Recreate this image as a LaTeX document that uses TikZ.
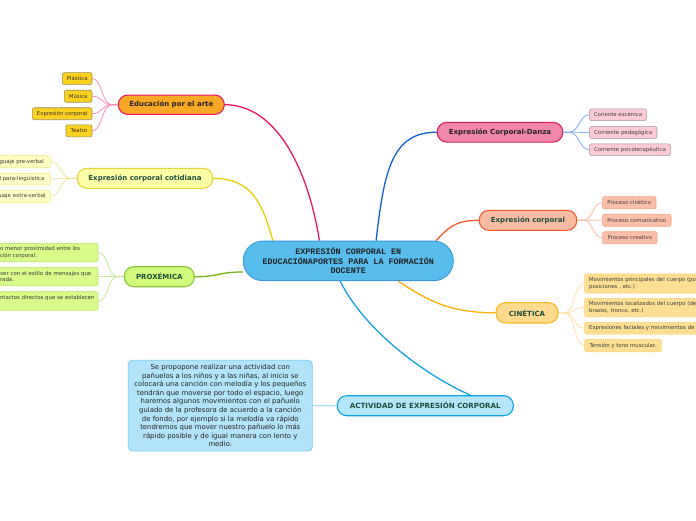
\documentclass[tikz,border=0pt]{standalone}
\usepackage{fontspec}
\setmainfont{DejaVu Sans}
\newfontfamily\monof{Liberation Mono}
\usetikzlibrary{calc}
\pgfdeclarelayer{bg}
\pgfdeclarelayer{edges}
\pgfsetlayers{bg,edges,main}

\definecolor{cfill}{HTML}{57BDEC}
\definecolor{cdraw}{HTML}{3A9AD9}
\definecolor{dkgreen}{HTML}{1F4E3D}
\definecolor{dktext}{HTML}{222222}
\definecolor{leaftext}{HTML}{3A3A3A}
\definecolor{edufill}{HTML}{F9A825}
\definecolor{edudraw}{HTML}{E8176A}
\definecolor{educon}{HTML}{E8176A}
\definecolor{eduleafcon}{HTML}{FF8DC0}
\definecolor{eduleaffill}{HTML}{FFD21F}
\definecolor{eduleafdraw}{HTML}{9B8F5E}
\definecolor{cotifill}{HTML}{FFFFA8}
\definecolor{cotidraw}{HTML}{E6D43A}
\definecolor{coticon}{HTML}{E6D000}
\definecolor{cotileaffill}{HTML}{FFFFC4}
\definecolor{cotileafdraw}{HTML}{F2E88A}
\definecolor{cotileafcon}{HTML}{F2E69A}
\definecolor{proxfill}{HTML}{D2FB7C}
\definecolor{proxdraw}{HTML}{8CC63F}
\definecolor{proxcon}{HTML}{7AB317}
\definecolor{proxleaffill}{HTML}{D9FB8A}
\definecolor{proxleafdraw}{HTML}{B9E46C}
\definecolor{proxleafcon}{HTML}{C8E89A}
\definecolor{danzafill}{HTML}{F287AC}
\definecolor{danzadraw}{HTML}{D61F5E}
\definecolor{danzacon}{HTML}{1160D0}
\definecolor{danzaleaffill}{HTML}{FDCAD6}
\definecolor{danzaleafdraw}{HTML}{9A9A9A}
\definecolor{danzaleafcon}{HTML}{7DB0EE}
\definecolor{expcfill}{HTML}{F9BCA2}
\definecolor{expcdraw}{HTML}{F05A28}
\definecolor{expccon}{HTML}{F05A28}
\definecolor{expcleaffill}{HTML}{FBBEA6}
\definecolor{expcleafdraw}{HTML}{F5A686}
\definecolor{expcleafcon}{HTML}{F9BBA2}
\definecolor{cinfill}{HTML}{FFDA8F}
\definecolor{cindraw}{HTML}{FFB61E}
\definecolor{cincon}{HTML}{FFB000}
\definecolor{cinleaffill}{HTML}{FFDF94}
\definecolor{cinleafdraw}{HTML}{FFD077}
\definecolor{cinleafcon}{HTML}{FFE2A8}
\definecolor{actfill}{HTML}{B5E6FB}
\definecolor{actdraw}{HTML}{0FA3E6}
\definecolor{actcon}{HTML}{0FA3E6}
\definecolor{descfill}{HTML}{B3E3FA}
\definecolor{descdraw}{HTML}{77CCF2}
\definecolor{desccon}{HTML}{A8DDF7}

\tikzset{
  branch/.style={rounded corners=9.5pt, line width=1.1pt, inner sep=0pt,
    font=\fontsize{7}{8.4}\selectfont\bfseries, text=dkgreen},
  leafbox/.style={rounded corners=2pt, line width=0.6pt, inner sep=0pt,
    font=\fontsize{5.4}{6.5}\selectfont, text=leaftext},
  cutleft/.style={leafbox, anchor=east, align=left, inner xsep=2.5pt},
  cutright/.style={leafbox, anchor=west, align=left, inner xsep=4.5pt, text width=140pt},
  mainedge/.style={line width=1.3pt},
  leafedge/.style={line width=0.8pt},
}

\begin{document}
\begin{tikzpicture}[x=1pt,y=-1pt]
\useasboundingbox (0,0) rectangle (696,520);
\begin{pgfonlayer}{bg}
  \fill[white] (0,0) rectangle (696,520);
\end{pgfonlayer}

% central node
\node[branch, fill=cfill, draw=cdraw, rounded corners=19.5pt, line width=0.9pt,
  minimum width=210pt, minimum height=39.5pt, align=center, text=dktext,
  font=\monof\bfseries\fontsize{8.4}{9.6}\selectfont] (c) at (348.3,260.9)
  {EXPRESIÓN CORPORAL EN\\EDUCACIÓNAPORTES PARA LA FORMACIÓN\\DOCENTE};

% branches
\node[branch, fill=edufill, draw=edudraw, minimum width=106pt, minimum height=19.3pt, text=dktext] (edu) at (171.3,104.7) {Educación por el arte};
\node[branch, fill=cotifill, draw=cotidraw, minimum width=135.4pt, minimum height=20pt] (coti) at (145,178.3) {Expresión corporal cotidiana};
\node[branch, fill=proxfill, draw=proxdraw, minimum width=70pt, minimum height=20pt] (prox) at (159.3,276.7) {PROXÉMICA};
\node[branch, fill=danzafill, draw=danzadraw, minimum width=125.4pt, minimum height=19.7pt, text=dktext] (danza) at (500,132.2) {Expresión Corporal-Danza};
\node[branch, fill=expcfill, draw=expcdraw, minimum width=97.4pt, minimum height=20pt] (expc) at (528,220.3) {Expresión corporal};
\node[branch, fill=cinfill, draw=cindraw, minimum width=62pt, minimum height=20.3pt] (cin) at (527,312.8) {CINÉTICA};
\node[branch, fill=actfill, draw=actdraw, minimum width=176pt, minimum height=20pt, font=\fontsize{7.1}{8.4}\selectfont\bfseries] (act) at (425.3,405.7) {ACTIVIDAD DE EXPRESIÓN CORPORAL};

% description
\node[rounded corners=4pt, fill=descfill, draw=descdraw, line width=0.8pt, inner sep=0pt,
  minimum width=184pt, minimum height=90.7pt, align=center, text=dktext,
  font=\fontsize{6.9}{8.55}\selectfont] (desc) at (220.3,405.6)
  {Se propopone realizar una actividad con\\
   pañuelos a los niños y a las niñas, al inicio se\\
   colocará una canción con melodía y los pequeños\\
   tendrán que moverse por todo el espacio, luego\\
   haremos algunos movimientos con el pañuelo\\
   guiado de la profesora de acuerdo a la canción\\
   de fondo, por ejemplo si la melodía va rápido\\
   tendremos que mover nuestro pañuelo lo más\\
   rápido posible y de igual manera con lento y\\
   medio.};

% educacion leaves
\begin{scope}[every node/.style={leafbox, anchor=east, fill=eduleaffill, draw=eduleafdraw, minimum height=12pt, text=black!80}]
  \node[minimum width=29.6pt] (pla) at (92.3,78.6) {Plástica};
  \node[minimum width=27.6pt] (mus) at (92.3,96.2) {Música};
  \node[minimum width=59.6pt] (expl) at (92.3,113.7) {Expresión corporal};
  \node[minimum width=26pt] (tea) at (92.3,130.8) {Teatro};
\end{scope}

% cotidiana leaves
\node[cutleft, fill=cotileaffill, draw=cotileafdraw, text width=48.4pt, minimum height=12pt] (co1) at (50.7,161.7) {guaje pre-verbal};
\node[cutleft, fill=cotileaffill, draw=cotileafdraw, text width=48.4pt, minimum height=11.6pt] (co2) at (50.7,179) {l para-lingüística};
\node[cutleft, fill=cotileaffill, draw=cotileafdraw, text width=48.4pt, minimum height=12.3pt] (co3) at (50.7,196.5) {uaje extra-verbal};

% proxemica leaves
\node[cutleft, fill=proxleaffill, draw=proxleafdraw, inner xsep=3pt, text width=95pt, minimum height=18.4pt] (px1) at (98.3,252.5) {o menor proximidad entre los\\ción corporal.};
\node[cutleft, fill=proxleaffill, draw=proxleafdraw, inner xsep=3pt, text width=95pt, minimum height=18.4pt] (px2) at (98.3,276.5) {ver con el estilo de mensajes que\\rada.};
\node[cutleft, fill=proxleaffill, draw=proxleafdraw, inner xsep=3pt, text width=95pt, minimum height=18.6pt] (px3) at (98.3,301) {ntactos directos que se establecen\\\mbox{}};

% danza leaves
\begin{scope}[every node/.style={leafbox, anchor=west, fill=danzaleaffill, draw=danzaleafdraw, minimum height=11.8pt, text=black!75}]
  \node[minimum width=56.7pt] (dz1) at (589.3,114.7) {Coriente escénica};
  \node[minimum width=67.4pt] (dz2) at (589.3,132.5) {Corriente pedagógica};
  \node[minimum width=80.7pt] (dz3) at (589.3,149.7) {Corriente psicoterapéutica};
\end{scope}

% expresion corporal leaves
\begin{scope}[every node/.style={leafbox, anchor=west, fill=expcleaffill, draw=expcleafdraw, minimum height=12.2pt, text=black!75}]
  \node[minimum width=53.4pt] (ec1) at (602.3,202.7) {Proceso cinético};
  \node[minimum width=68.4pt] (ec2) at (602.3,220.2) {Proceso comunicativo};
  \node[minimum width=54.4pt] (ec3) at (602.3,237.8) {Proceso creativo};
\end{scope}

% cinetica leaves
\node[cutright, fill=cinleaffill, draw=cinleafdraw, minimum height=19pt] (cn1) at (584.3,283.5) {Movimientos principales del cuerpo (po\\posiciones , etc.)};
\node[cutright, fill=cinleaffill, draw=cinleafdraw, minimum height=18.4pt] (cn2) at (584.3,307.5) {Movimientos localizados del cuerpo (de\\brazos, tronco, etc.)};
\node[cutright, fill=cinleaffill, draw=cinleafdraw, minimum height=11.7pt] (cn3) at (584.3,328.2) {Expresiones faciales y movimientos de};
\node[leafbox, anchor=west, fill=cinleaffill, draw=cinleafdraw, minimum height=12.4pt, minimum width=76.7pt] (cn4) at (584.3,345.5) {Tensión y tono muscular.};

% connectors
\begin{pgfonlayer}{edges}
  \draw[mainedge, educon] (c.145) .. controls +(-12,-75) and +(50,0) .. (edu.east);
  \draw[mainedge, coticon] (c.165) .. controls +(-10,-35) and +(40,0) .. (coti.east);
  \draw[mainedge, proxcon] (c.186) .. controls +(-25,0) and +(25,0) .. (prox.east);
  \draw[mainedge, danzacon] (c.36) .. controls +(8,-70) and +(-45,0) .. (danza.west);
  \draw[mainedge, expccon] (c.13) .. controls +(12,-12) and +(-25,0) .. (expc.west);
  \draw[mainedge, cincon] (c.-22) .. controls +(30,20) and +(-45,0) .. (cin.west);
  \draw[mainedge, actcon] (c.-112) .. controls +(25,50) and +(-45,-20) .. ($(act.north)+(45,0)$);
  \draw[line width=1.2pt, desccon] (desc.east) -- (act.west);

  \foreach \l in {pla,mus,expl,tea}
    \draw[leafedge, eduleafcon] (edu.west) -- ++(-6,0) .. controls +(-10,0) and +(10,0) .. (\l.east);
  \foreach \l in {co1,co2,co3}
    \draw[leafedge, cotileafcon] (coti.west) -- ++(-6,0) .. controls +(-10,0) and +(10,0) .. (\l.east);
  \foreach \l in {px1,px2,px3}
    \draw[leafedge, proxleafcon] (prox.west) -- ++(-6,0) .. controls +(-10,0) and +(10,0) .. (\l.east);
  \foreach \l in {dz1,dz2,dz3}
    \draw[leafedge, danzaleafcon] (danza.east) -- ++(6,0) .. controls +(10,0) and +(-10,0) .. (\l.west);
  \foreach \l in {ec1,ec2,ec3}
    \draw[leafedge, expcleafcon] (expc.east) -- ++(6,0) .. controls +(10,0) and +(-10,0) .. (\l.west);
  \foreach \l in {cn1,cn2,cn3,cn4}
    \draw[leafedge, cinleafcon] (cin.east) -- ++(6,0) .. controls +(10,0) and +(-10,0) .. (\l.west);
\end{pgfonlayer}
\end{tikzpicture}
\end{document}
